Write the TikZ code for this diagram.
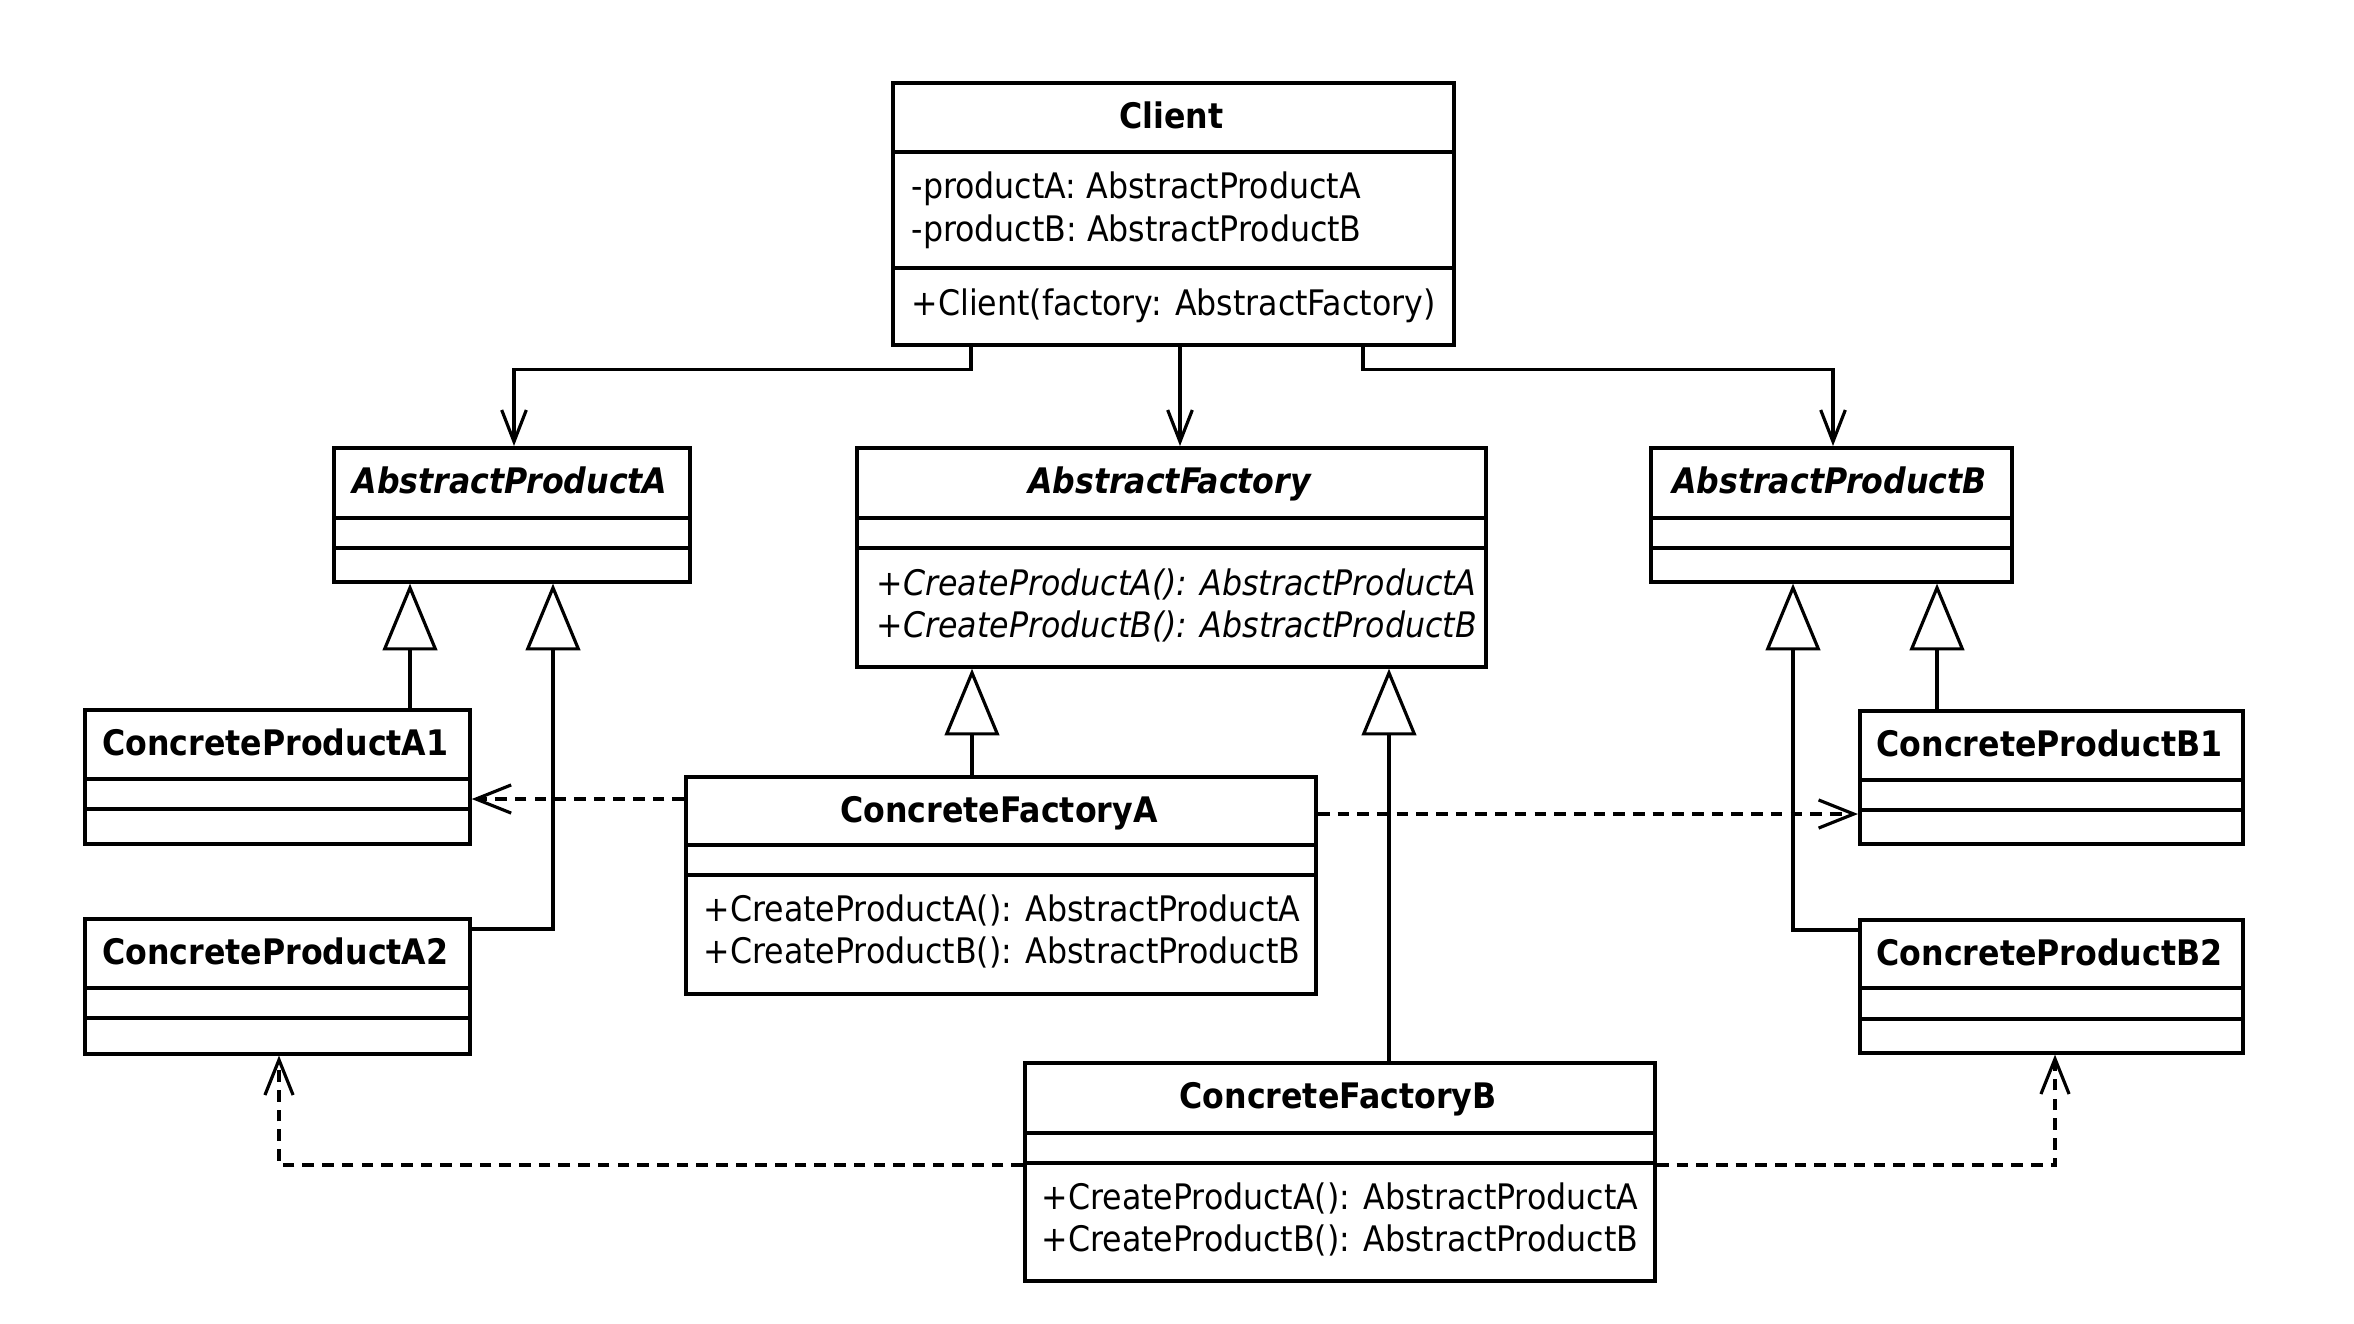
\documentclass[tikz,border=0pt]{standalone}
\usepackage{fontspec}
\setmainfont{DejaVu Sans Condensed}
\usetikzlibrary{arrows.meta,calc}
\begin{document}
\begin{tikzpicture}[x=0.01cm,y=-0.01cm,
  box/.style={draw, line width=1pt, rectangle, inner sep=0pt, anchor=north west},
  divline/.style={line width=1pt},
  ttl/.style={anchor=base, inner sep=0pt, font=\fontsize{10}{12}\selectfont\bfseries},
  attl/.style={anchor=base, inner sep=0pt, font=\fontsize{10}{12}\selectfont\bfseries\itshape},
  mem/.style={anchor=base west, inner sep=0pt, font=\fontsize{10}{12}\selectfont},
  amem/.style={anchor=base west, inner sep=0pt, font=\fontsize{10}{12}\selectfont\itshape},
  assoc/.style={line width=0.9pt, -{Straight Barb[length=9pt,width=7pt]}},
  gen/.style={line width=0.9pt, -{Triangle[open,length=19pt,width=15.5pt]}},
  dep/.style={line width=0.9pt, dash pattern=on 3.3pt off 2.3pt, -{Straight Barb[length=10pt,width=8pt]}}
]
\fill[white] (0,0) rectangle (2354,1324);
\useasboundingbox (0,0) rectangle (2354,1324);

% ---------- boxes ----------
\node[box, minimum width=5.61cm, minimum height=2.62cm] (client) at (891,81) {};
\draw[divline] (891,152) -- (1452,152);
\draw[divline] (891,268) -- (1452,268);
\node[ttl] (clientT) at (1171.5,128) {Client};
\node[mem] (clientA1) at (911,198) {-productA: AbstractProductA};
\node[mem] (clientA2) at (911,241) {-productB: AbstractProductB};
\node[mem] (clientM1) at (911,315) {+Client(factory: AbstractFactory)};

\node[box, minimum width=3.56cm, minimum height=1.34cm] (apa) at (332,446) {};
\draw[divline] (332,518) -- (688,518);
\draw[divline] (332,548) -- (688,548);
\node[attl] (apaT) at (510,493) {AbstractProductA};

\node[box, minimum width=6.29cm, minimum height=2.19cm] (af) at (855,446) {};
\draw[divline] (855,518) -- (1484,518);
\draw[divline] (855,548) -- (1484,548);
\node[attl] (afT) at (1169.5,493) {AbstractFactory};
\node[amem] (afM1) at (876,595) {+CreateProductA(): AbstractProductA};
\node[amem] (afM2) at (876,637) {+CreateProductB(): AbstractProductB};

\node[box, minimum width=3.61cm, minimum height=1.34cm] (apb) at (1649,446) {};
\draw[divline] (1649,518) -- (2010,518);
\draw[divline] (1649,548) -- (2010,548);
\node[attl] (apbT) at (1829.5,493) {AbstractProductB};

\node[box, minimum width=3.85cm, minimum height=1.34cm] (a1) at (83,708) {};
\draw[divline] (83,779) -- (468,779);
\draw[divline] (83,809) -- (468,809);
\node[ttl] (a1T) at (275.5,755) {ConcreteProductA1};

\node[box, minimum width=3.85cm, minimum height=1.35cm] (a2) at (83,917) {};
\draw[divline] (83,988) -- (468,988);
\draw[divline] (83,1018) -- (468,1018);
\node[ttl] (a2T) at (275.5,964) {ConcreteProductA2};

\node[box, minimum width=6.30cm, minimum height=2.17cm] (cfa) at (684,775) {};
\draw[divline] (684,845) -- (1314,845);
\draw[divline] (684,875) -- (1314,875);
\node[ttl] (cfaT) at (999,822) {ConcreteFactoryA};
\node[mem] (cfaM1) at (703,921) {+CreateProductA(): AbstractProductA};
\node[mem] (cfaM2) at (703,963) {+CreateProductB(): AbstractProductB};

\node[box, minimum width=3.83cm, minimum height=1.33cm] (b1) at (1858,709) {};
\draw[divline] (1858,780) -- (2241,780);
\draw[divline] (1858,810) -- (2241,810);
\node[ttl] (b1T) at (2049.5,756) {ConcreteProductB1};

\node[box, minimum width=3.83cm, minimum height=1.33cm] (b2) at (1858,918) {};
\draw[divline] (1858,988) -- (2241,988);
\draw[divline] (1858,1019) -- (2241,1019);
\node[ttl] (b2T) at (2049.5,965) {ConcreteProductB2};

\node[box, minimum width=6.30cm, minimum height=2.18cm] (cfb) at (1023,1061) {};
\draw[divline] (1023,1133) -- (1653,1133);
\draw[divline] (1023,1163) -- (1653,1163);
\node[ttl] (cfbT) at (1338,1108) {ConcreteFactoryB};
\node[mem] (cfbM1) at (1041,1209) {+CreateProductA(): AbstractProductA};
\node[mem] (cfbM2) at (1041,1251) {+CreateProductB(): AbstractProductB};

% ---------- associations ----------
\draw[assoc] ($(client.south west)+(80,0)$) -- ++(0,23) -| ($(apa.north west)+(182,0)$);
\draw[assoc] ($(client.south west)+(289,0)$) -- ($(af.north west)+(325,0)$);
\draw[assoc] ($(client.south west)+(472,0)$) -- ++(0,23) -| ($(apb.north west)+(184,0)$);

% ---------- generalizations ----------
\draw[gen] ($(a1.north west)+(327,0)$) -- ($(apa.south west)+(78,0)$);
\draw[gen] ($(a2.north east)+(0,12)$) -| ($(apa.south west)+(221,0)$);
\draw[gen] ($(cfa.north west)+(288,0)$) -- ($(af.south west)+(117,0)$);
\draw[gen] ($(cfb.north west)+(366,0)$) -- ($(af.south west)+(534,0)$);
\draw[gen] ($(b1.north west)+(79,0)$) -- ($(apb.south west)+(288,0)$);
\draw[gen] ($(b2.north west)+(0,12)$) -| ($(apb.south west)+(144,0)$);

% ---------- dependencies ----------
\coordinate (cfaL) at ($(cfa.north west)+(0,24)$);
\coordinate (cfaR) at ($(cfa.north east)+(0,39)$);
\coordinate (cfbL) at ($(cfb.north west)+(0,104)$);
\coordinate (cfbR) at ($(cfb.north east)+(0,104)$);
\draw[dep] (cfaL) -- (a1.east |- cfaL);
\draw[dep] (cfaR) -- (b1.west |- cfaR);
\draw[dep] (cfbL) -| ($(a2.south west)+(196,0)$);
\draw[dep] (cfbR) -| ($(b2.south west)+(197,0)$);
\end{tikzpicture}
\end{document}
